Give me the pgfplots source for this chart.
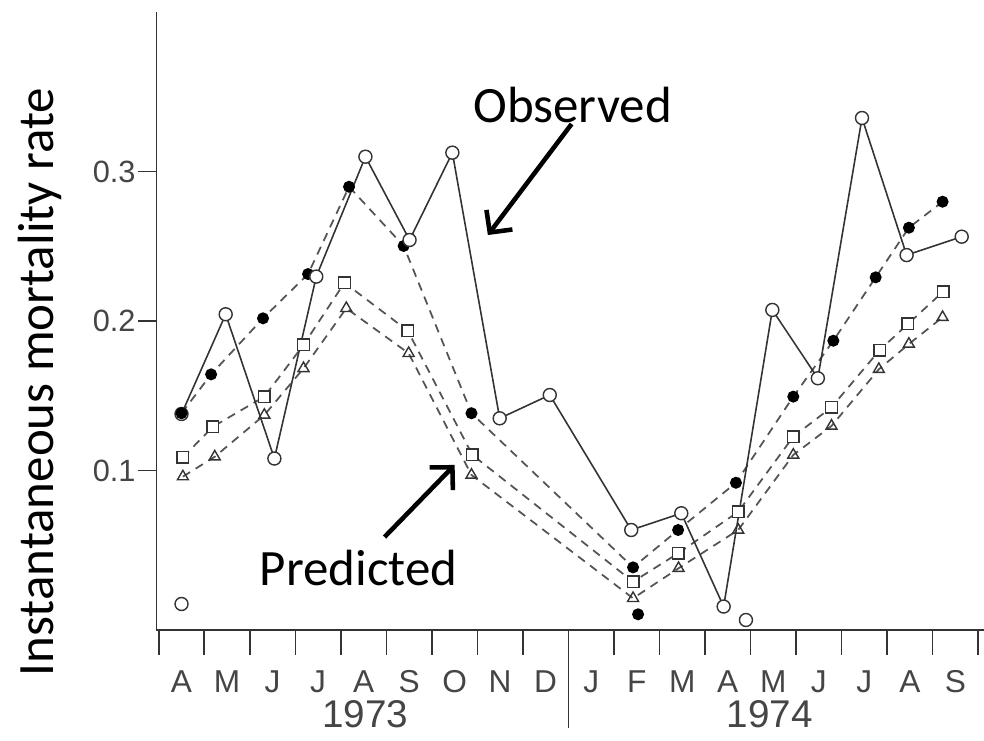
\documentclass[border=0pt]{standalone}
\usepackage{fontspec}
\setmainfont{Carlito}
\newfontfamily\scanfont{Liberation Sans}
\usepackage{pgfplots}
\pgfplotsset{compat=1.18}
\usetikzlibrary{arrows.meta}
\definecolor{ink}{gray}{0.2}
\definecolor{dashink}{gray}{0.33}
\definecolor{labink}{gray}{0.27}

\pgfplotstableread{
x y
0.00 0.1378
0.97 0.2045
2.04 0.1080
2.96 0.2297
4.04 0.3099
5.01 0.2542
5.95 0.3126
6.99 0.1349
8.09 0.1505
9.88 0.0602
10.98 0.0714
11.91 0.0090
12.98 0.2074
13.98 0.1617
14.95 0.3358
15.93 0.2441
17.14 0.2564
}\observed

\pgfplotstableread{
x y
0.00 0.1383
0.65 0.1643
1.79 0.2018
2.78 0.2314
3.68 0.2898
4.88 0.2502
6.37 0.1383
9.92 0.0352
10.91 0.0602
12.18 0.0918
13.44 0.1494
14.32 0.1868
15.25 0.2292
15.98 0.2624
16.72 0.2798
}\predA

\pgfplotstableread{
x y
0.03 0.1088
0.69 0.1293
1.82 0.1494
2.68 0.1840
3.58 0.2256
4.97 0.1935
6.39 0.1104
9.92 0.0256
10.91 0.0446
12.23 0.0724
13.44 0.1226
14.28 0.1423
15.34 0.1806
15.96 0.1980
16.73 0.2196
}\predB

\pgfplotstableread{
x y
0.03 0.0959
0.73 0.1092
1.82 0.1371
2.68 0.1683
3.62 0.2085
4.99 0.1784
6.37 0.0970
9.92 0.0145
10.92 0.0346
12.23 0.0602
13.44 0.1104
14.28 0.1298
15.32 0.1677
15.98 0.1846
16.72 0.2025
}\predC

\begin{document}
\begin{tikzpicture}
\useasboundingbox (-3.13,-2.2) rectangle (16.55,12.6);
\begin{axis}[
  at={(0,0)}, anchor=south west, scale only axis,
  width=16.55cm, height=12.36cm,
  xmin=-0.55, xmax=17.63, ymin=-0.0067, ymax=0.4067,
  axis lines=left, axis line style={-, ink, line width=0.9pt},
  clip=false,
  tick align=outside,
  major tick length=0.36cm, minor tick length=0.5cm,
  tick style={ink, line width=0.9pt},
  xtick={0,...,17},
  xticklabels={A,M,J,J,A,S,O,N,D,J,F,M,A,M,J,J,A,S},
  minor xtick={-0.5,0.5,...,17.5},
  every major x tick/.append style={draw=none},
  xticklabel style={font=\scanfont\fontsize{18}{20}\selectfont, text=labink, anchor=north, text height=13pt, text depth=0pt, yshift=-0.3cm},
  ytick={0.1,0.2,0.3},
  yticklabels={0.1,0.2,0.3},
  yticklabel style={font=\scanfont\fontsize{17.5}{19}\selectfont, text=labink, inner sep=1.5pt},
  every axis plot/.append style={line width=1pt},
]
\addplot[dashink, dash pattern=on 0.17cm off 0.13cm, mark=triangle, mark size=3.6pt, mark options={solid, draw=ink, fill=white, line width=0.8pt}] table {\predC};
\addplot[dashink, dash pattern=on 0.17cm off 0.13cm, mark=square*, mark size=3.3pt, mark options={solid, draw=ink, fill=white, line width=0.8pt}] table {\predB};
\addplot[dashink, dash pattern=on 0.17cm off 0.13cm, mark=*, mark size=2.9pt, mark options={solid, draw=black, fill=black}] table {\predA};
\addplot[ink, line width=0.9pt, mark=*, mark size=3.7pt, mark options={solid, draw=ink, fill=white, line width=0.8pt}] table {\observed};
% stray marks visible in the scanned figure
\addplot[only marks, mark=*, mark size=3.7pt, mark options={draw=ink, fill=white, line width=0.8pt}] coordinates {(0.0,0.0107) (12.4,0.0)};
\addplot[only marks, mark=*, mark size=2.9pt, mark options={draw=black, fill=black}] coordinates {(10.03,0.0038) (0.0,0.1383)};

\draw[ink, line width=0.9pt] (axis cs:8.5,-0.0067) -- ++(0pt,-1.96cm);
\node[font=\scanfont\fontsize{22}{24}\selectfont, text=labink] at ([yshift=-1.68cm]axis cs:4.04,-0.0067) {1973};
\node[font=\scanfont\fontsize{22}{24}\selectfont, text=labink] at ([yshift=-1.68cm]axis cs:12.92,-0.0067) {1974};

\node[rotate=90, font=\fontsize{29}{31}\selectfont] at ([xshift=-2.33cm,yshift=4.96cm]rel axis cs:0,0) {Instantaneous mortality rate};

\node[font=\fontsize{29}{31}\selectfont] at (axis cs:8.59,0.3445) {Observed};
\draw[line width=2.6pt, -{Straight Barb[length=3.2mm,width=6.5mm]}] (axis cs:8.57,0.3318) -- (axis cs:6.73,0.2575);
\node[font=\fontsize{29}{31}\selectfont] at (axis cs:3.89,0.0348) {Predicted};
\draw[line width=2.6pt, -{Straight Barb[length=3.2mm,width=6.5mm]}] (axis cs:4.46,0.0555) -- (axis cs:6.0,0.1037);
\end{axis}
\end{tikzpicture}
\end{document}
